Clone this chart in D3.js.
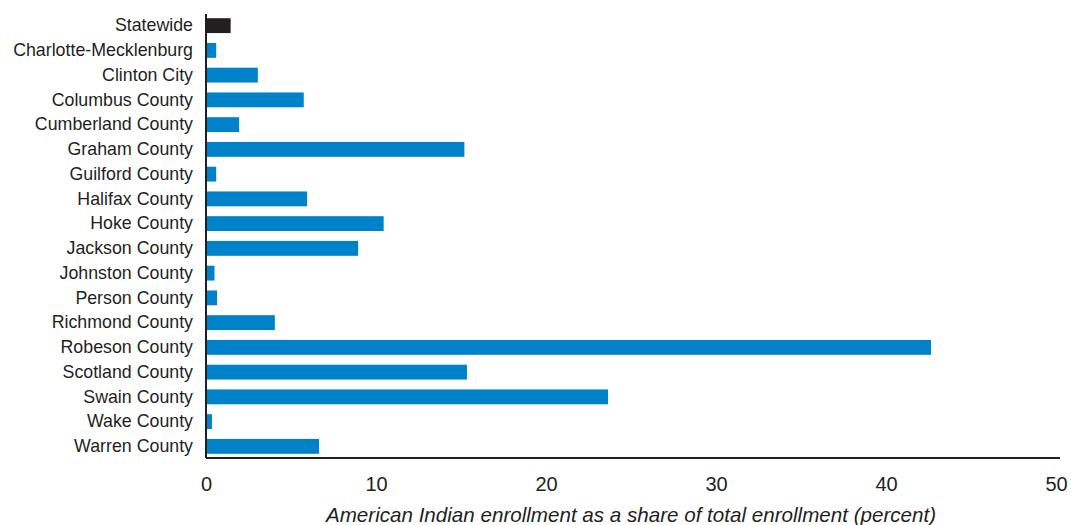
<!DOCTYPE html>
<html><head><meta charset="utf-8">
<script src="https://cdn.jsdelivr.net/npm/d3@7"></script>
<style>body{margin:0;background:#fff}svg{display:block}</style>
</head><body>
<svg id="c" width="1071" height="525"></svg>
<script>
const categories = ["Statewide","Charlotte-Mecklenburg","Clinton City","Columbus County","Cumberland County","Graham County","Guilford County","Halifax County","Hoke County","Jackson County","Johnston County","Person County","Richmond County","Robeson County","Scotland County","Swain County","Wake County","Warren County"];
const values = [1.45,0.6,3.05,5.75,1.95,15.2,0.6,5.95,10.45,8.95,0.5,0.65,4.05,42.65,15.35,23.65,0.35,6.65];
const xTicks = [0,10,20,30,40,50];
const xTitle = "American Indian enrollment as a share of total enrollment (percent)";

(function(){
const svg = d3.select("#c");
const mL = 206, mR = 1056, mT = 14, mB = 458;
const font = "'Liberation Sans', Arial, sans-serif";
const x = d3.scaleLinear().domain([0,50]).range([mL,mR]);
const y = d3.scaleBand().domain(categories).range([mT,mB]).paddingInner(0.4).paddingOuter(0.17);

svg.selectAll("rect.bar").data(categories).join("rect")
  .attr("class","bar")
  .attr("x", x(0)+1)
  .attr("y", d=>y(d))
  .attr("height", y.bandwidth())
  .attr("width", (d,i)=>x(values[i])-x(0)-1)
  .attr("fill", (d,i)=> i===0 ? "#231f20" : "#0082ca");

const ya = svg.append("g").attr("transform",`translate(${mL},0)`)
  .call(d3.axisLeft(y).tickSize(0).tickPadding(13));
ya.select(".domain").attr("stroke","#231f20").attr("stroke-width",2).attr("d",`M0,${mT}V${mB}`);
ya.selectAll("text").attr("font-family",font).attr("font-size",17.8).attr("fill","#231f20");

const xa = svg.append("g").attr("transform",`translate(0,${mB})`)
  .call(d3.axisBottom(x).tickValues(xTicks).tickSize(0).tickPadding(19));
xa.select(".domain").attr("stroke","#231f20").attr("stroke-width",2).attr("d",`M${mL},0H${mR+4}`);
xa.selectAll("text").attr("font-family",font).attr("font-size",20).attr("fill","#231f20");

svg.append("text").attr("x",631).attr("y",522)
  .attr("text-anchor","middle").attr("font-family",font).attr("font-style","italic")
  .attr("font-size",20.6).attr("fill","#231f20").text(xTitle);
})();
</script>
</body></html>
